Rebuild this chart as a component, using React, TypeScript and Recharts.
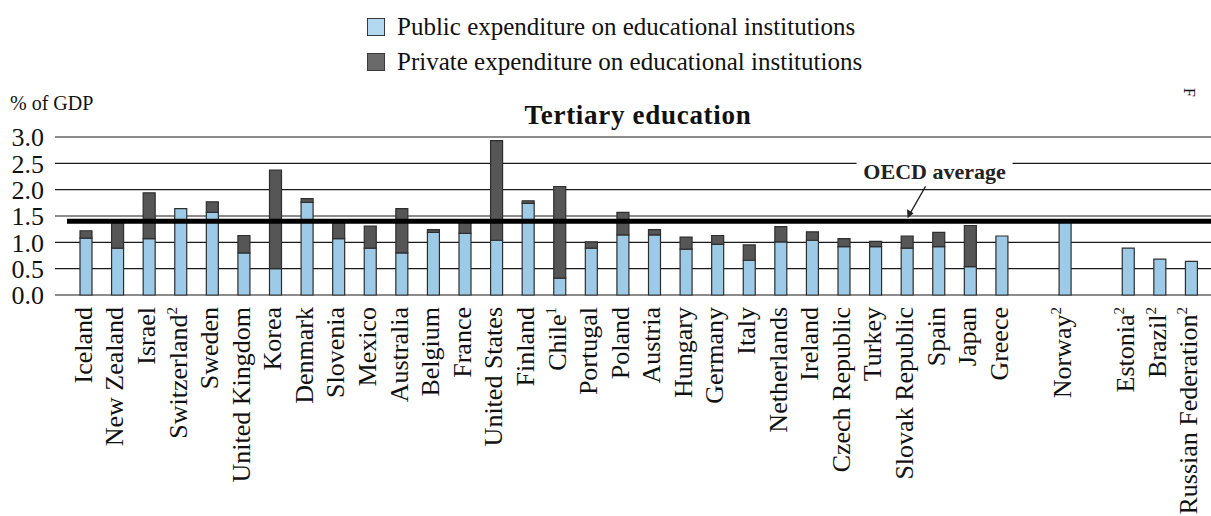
import React from 'react';
import { BarChart, Bar, XAxis, YAxis, CartesianGrid, Legend, ReferenceLine, ReferenceDot } from 'recharts';

// Tertiary education expenditure, % of GDP
const countries = [
  'Iceland', 'New Zealand', 'Israel', 'Switzerland', 'Sweden', 'United Kingdom', 'Korea', 'Denmark',
  'Slovenia', 'Mexico', 'Australia', 'Belgium', 'France', 'United States', 'Finland', 'Chile',
  'Portugal', 'Poland', 'Austria', 'Hungary', 'Germany', 'Italy', 'Netherlands', 'Ireland',
  'Czech Republic', 'Turkey', 'Slovak Republic', 'Spain', 'Japan', 'Greece', ' ', 'Norway', '  ',
  'Estonia', 'Brazil', 'Russian Federation',
];
const footnotes = [
  '', '', '', '2', '', '', '', '', '', '', '', '', '', '', '', '1', '', '', '', '', '', '', '', '',
  '', '', '', '', '', '', '', '2', '', '2', '2', '2',
];
const publicValues = [
  1.08, 0.89, 1.07, 1.64, 1.57, 0.80, 0.50, 1.76, 1.07, 0.89, 0.80, 1.19, 1.17, 1.04, 1.74, 0.32,
  0.89, 1.14, 1.14, 0.87, 0.96, 0.66, 1.01, 1.04, 0.92, 0.92, 0.89, 0.92, 0.54, 1.12, null, 1.38, null,
  0.89, 0.68, 0.64,
];
const privateValues = [
  0.14, 0.51, 0.87, null, 0.20, 0.33, 1.87, 0.07, 0.30, 0.42, 0.84, 0.05, 0.21, 1.89, 0.05, 1.74,
  0.12, 0.43, 0.10, 0.23, 0.17, 0.29, 0.29, 0.16, 0.15, 0.10, 0.23, 0.27, 0.78, null, null, null, null,
  null, null, null,
];
const yTicks = [0, 0.5, 1, 1.5, 2, 2.5, 3];
const oecdAverage = 1.4;

const data = countries.map((name, i) => ({
  name,
  note: footnotes[i],
  public: publicValues[i],
  private: privateValues[i],
}));

const SERIF = '"Liberation Serif", "DejaVu Serif", serif';
const legendOrder = ['public', 'private'];

const CountryTick = (props: any) => {
  const { x, y, payload, index } = props;
  const label = payload.value.trim();
  if (!label) return null;
  const note = data[index]?.note;
  return (
    <g transform={`translate(${x + 6},${y + 4}) rotate(-90)`}>
      <text textAnchor="end" fontFamily={SERIF} fontSize={26} fill="#111">
        {label}
        {note ? <tspan fontSize={15} dy={-10}>{note}</tspan> : null}
      </text>
    </g>
  );
};

const LegendBox = (props: any) => {
  const items = [...(props.payload || [])].sort(
    (a: any, b: any) => legendOrder.indexOf(a.dataKey) - legendOrder.indexOf(b.dataKey)
  );
  return (
    <div>
      {items.map((entry: any) => (
        <div key={entry.value} style={{ display: 'flex', alignItems: 'center', height: 35 }}>
          <div style={{ width: 16, height: 16, border: '1.5px solid #3a3a3a', background: entry.dataKey === 'public' ? '#b3d9f0' : '#6a6a6a' }} />
          <span style={{ marginLeft: 12, fontFamily: SERIF, fontSize: 25, color: '#111', whiteSpace: 'nowrap' }}>{entry.value}</span>
        </div>
      ))}
    </div>
  );
};

const OecdNote = (props: any) => {
  const { cx, cy } = props;
  return (
    <g>
      <rect x={cx - 82} y={cy - 4} width={156} height={8} fill="#fff" />
      <text x={cx - 4} y={cy + 16} textAnchor="middle" fontFamily={SERIF} fontWeight="bold" fontSize={22} fill="#222">
        OECD average
      </text>
      <line x1={cx - 13} y1={cy + 23} x2={cx - 29} y2={cy + 51} stroke="#222" strokeWidth={1.3} />
      <path d={`M ${cx - 31} ${cy + 55} L ${cx - 31.5} ${cy + 46} L ${cx - 25} ${cy + 50} Z`} fill="#222" />
    </g>
  );
};

const App: React.FC = () => {
  return (
    <div style={{ position: 'absolute', left: 0, top: 0, background: '#fff' }}>
      <BarChart width={1211} height={516} data={data} margin={{ top: 137, right: 0, bottom: 0, left: 0 }}>
        <CartesianGrid vertical={false} stroke="#1a1a1a" strokeWidth={1.2} />
        <XAxis dataKey="name" interval={0} tick={<CountryTick />} tickLine={false} axisLine={false} height={221} padding={{ left: 15, right: 4 }} />
        <YAxis
          domain={[0, 3]}
          ticks={yTicks}
          interval={0}
          width={55}
          tickLine={false}
          axisLine={false}
          tickMargin={5}
          tickFormatter={(v: number) => v.toFixed(1)}
          tick={{ fontFamily: SERIF, fontSize: 26, fill: '#111' }}
        />
        <Legend
          layout="horizontal"
          verticalAlign="middle"
          align="center"
          content={<LegendBox />}
          wrapperStyle={{ top: 9, left: 367, width: 540, height: 72 }}
        />
        <Bar dataKey="public" name="Public expenditure on educational institutions" stackId="a" fill="#9dcae6" stroke="#2e2e2e" strokeWidth={1.2} barSize={12} isAnimationActive={false} />
        <Bar dataKey="private" name="Private expenditure on educational institutions" stackId="a" fill="#565656" stroke="#2e2e2e" strokeWidth={1.2} barSize={12} isAnimationActive={false} />
        <ReferenceLine
          y={oecdAverage}
          stroke="#000"
          strokeWidth={5}
          shape={(p: any) => <line x1={p.x1 + 12} y1={p.y1} x2={p.x2} y2={p.y2} stroke="#000" strokeWidth={5} />}
        />
        <ReferenceDot x="Spain" y={2.5} shape={<OecdNote />} />
        <text x={10} y={110} fontFamily={SERIF} fontSize={20} fill="#111">% of GDP</text>
        <text x={638} y={124} textAnchor="middle" fontFamily={SERIF} fontWeight="bold" fontSize={27} letterSpacing={0.7} fill="#111">
          Tertiary education
        </text>
        <text x={0} y={0} transform="translate(1184,88) rotate(90)" fontFamily={SERIF} fontSize={16} fill="#111">F</text>
      </BarChart>
    </div>
  );
};

export default App;
